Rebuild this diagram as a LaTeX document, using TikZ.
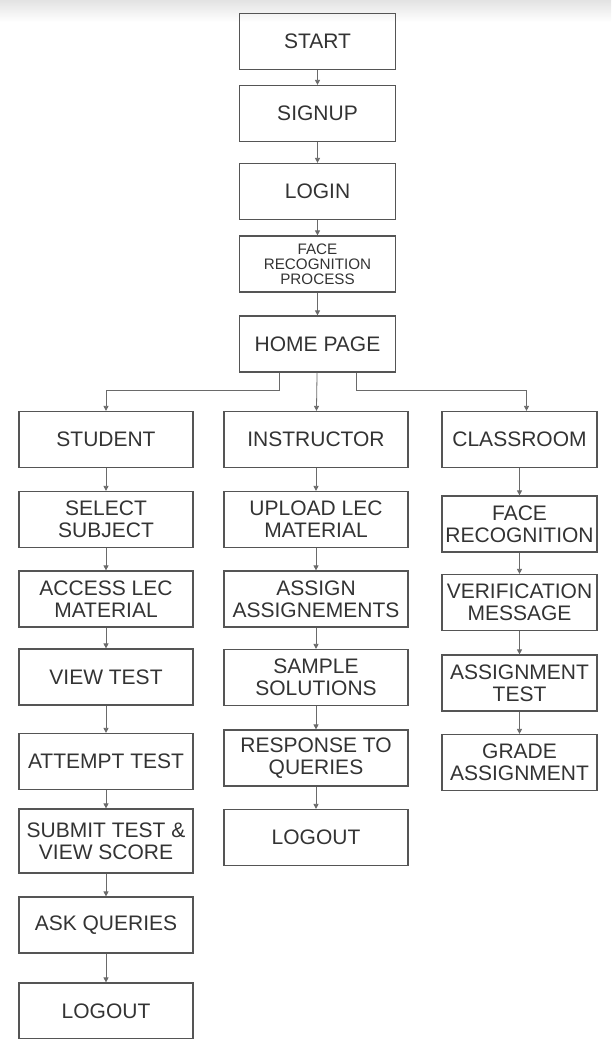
\documentclass[tikz,border=0pt]{standalone}
\usepackage{fontspec}
\setmainfont{Liberation Sans}
\usetikzlibrary{
    arrows.meta,         % For arrow tips
}

\definecolor{boxgray}{HTML}{555555}
\definecolor{textgray}{HTML}{333333}
\definecolor{linkgray}{HTML}{6A6A6A}

\begin{document}
\begin{tikzpicture}[
    x=1pt, y=-1pt, % one unit per pixel, y runs downwards
    >={Triangle[length=5pt, width=5pt]}, % Set default arrow tip style
    box/.style={draw=boxgray, line width=1.2pt, minimum height=56pt, inner sep=1pt,
        align=center, text=textgray, font=\fontsize{21}{22}\selectfont}, % Base box
    topbox/.style={box, minimum width=156pt}, % Main column
    stubox/.style={box, minimum width=174pt}, % Student column
    insbox/.style={box, minimum width=184pt}, % Instructor column
    clsbox/.style={box, minimum width=155pt}, % Classroom column
    link/.style={->, draw=linkgray, line width=0.8pt} % Style for connectors
]

    \useasboundingbox (0,0) rectangle (611,1039);

    % Grey band at the top
    \shade[top color=gray!22, bottom color=white] (0,0) rectangle (611,22);

    % Main column
    \node[topbox] (start) at (317.5, 41.5) {START};
    \node[topbox] (signup) at (317.5, 113.5) {SIGNUP};
    \node[topbox] (login) at (317.5, 191.5) {LOGIN};
    \node[topbox, font=\fontsize{15.2}{15}\selectfont] (facerec) at (317.5, 264) {FACE\\RECOGNITION\\PROCESS};
    \node[topbox] (home) at (317.5, 344) {HOME PAGE};

    \draw[link] (start) -- (signup);
    \draw[link] (signup) -- (login);
    \draw[link] (login) -- (facerec);
    \draw[link] (facerec) -- (home);

    % Student column
    \node[stubox] (student) at (106, 439.5) {STUDENT};
    \node[stubox] (select) at (106, 519.5) {SELECT\\SUBJECT};
    \node[stubox] (access) at (106, 599) {ACCESS LEC\\MATERIAL};
    \node[stubox] (viewtest) at (106, 677) {VIEW TEST};
    \node[stubox] (attempt) at (106, 761.5) {ATTEMPT TEST};
    \node[stubox, minimum height=64pt] (submit) at (106, 841) {SUBMIT TEST \&\\VIEW SCORE};
    \node[stubox] (ask) at (106, 925) {ASK QUERIES};
    \node[stubox] (stulogout) at (106, 1011) {LOGOUT};

    \draw[link] (student) -- (select);
    \draw[link] (select) -- (access);
    \draw[link] (access) -- (viewtest);
    \draw[link] (viewtest) -- (attempt);
    \draw[link] (attempt) -- (submit);
    \draw[link] (submit) -- (ask);
    \draw[link] (ask) -- (stulogout);

    % Instructor column
    \node[insbox] (instructor) at (316, 439.5) {INSTRUCTOR};
    \node[insbox] (upload) at (316, 519.5) {UPLOAD LEC\\MATERIAL};
    \node[insbox] (assign) at (316, 599) {ASSIGN\\ASSIGNEMENTS};
    \node[insbox] (sample) at (316, 677.5) {SAMPLE\\SOLUTIONS};
    \node[insbox] (response) at (316, 758) {RESPONSE TO\\QUERIES};
    \node[insbox] (inslogout) at (316, 837.5) {LOGOUT};

    \draw[link] (instructor) -- (upload);
    \draw[link] (upload) -- (assign);
    \draw[link] (assign) -- (sample);
    \draw[link] (sample) -- (response);
    \draw[link] (response) -- (inslogout);

    % Classroom column
    \node[clsbox] (classroom) at (519.5, 439.5) {CLASSROOM};
    \node[clsbox] (facerecog) at (519.5, 524) {FACE\\RECOGNITION};
    \node[clsbox] (verify) at (519.5, 602.5) {VERIFICATION\\MESSAGE};
    \node[clsbox] (asgtest) at (519.5, 683) {ASSIGNMENT\\TEST};
    \node[clsbox] (grade) at (519.5, 762.5) {GRADE\\ASSIGNMENT};

    \draw[link] (classroom) -- (facerecog);
    \draw[link] (facerecog) -- (verify);
    \draw[link] (verify) -- (asgtest);
    \draw[link] (asgtest) -- (grade);

    % Branches out of the home page
    \coordinate (brL) at (279, 390);
    \coordinate (brR) at (356, 390);
    \draw[link] (home.south -| brL) -- (brL) -| (student.north);
    \draw[link] (home) -- (instructor);
    \draw[link] (home.south -| brR) -- (brR) -| ([xshift=7pt]classroom.north);

\end{tikzpicture}
\end{document}
